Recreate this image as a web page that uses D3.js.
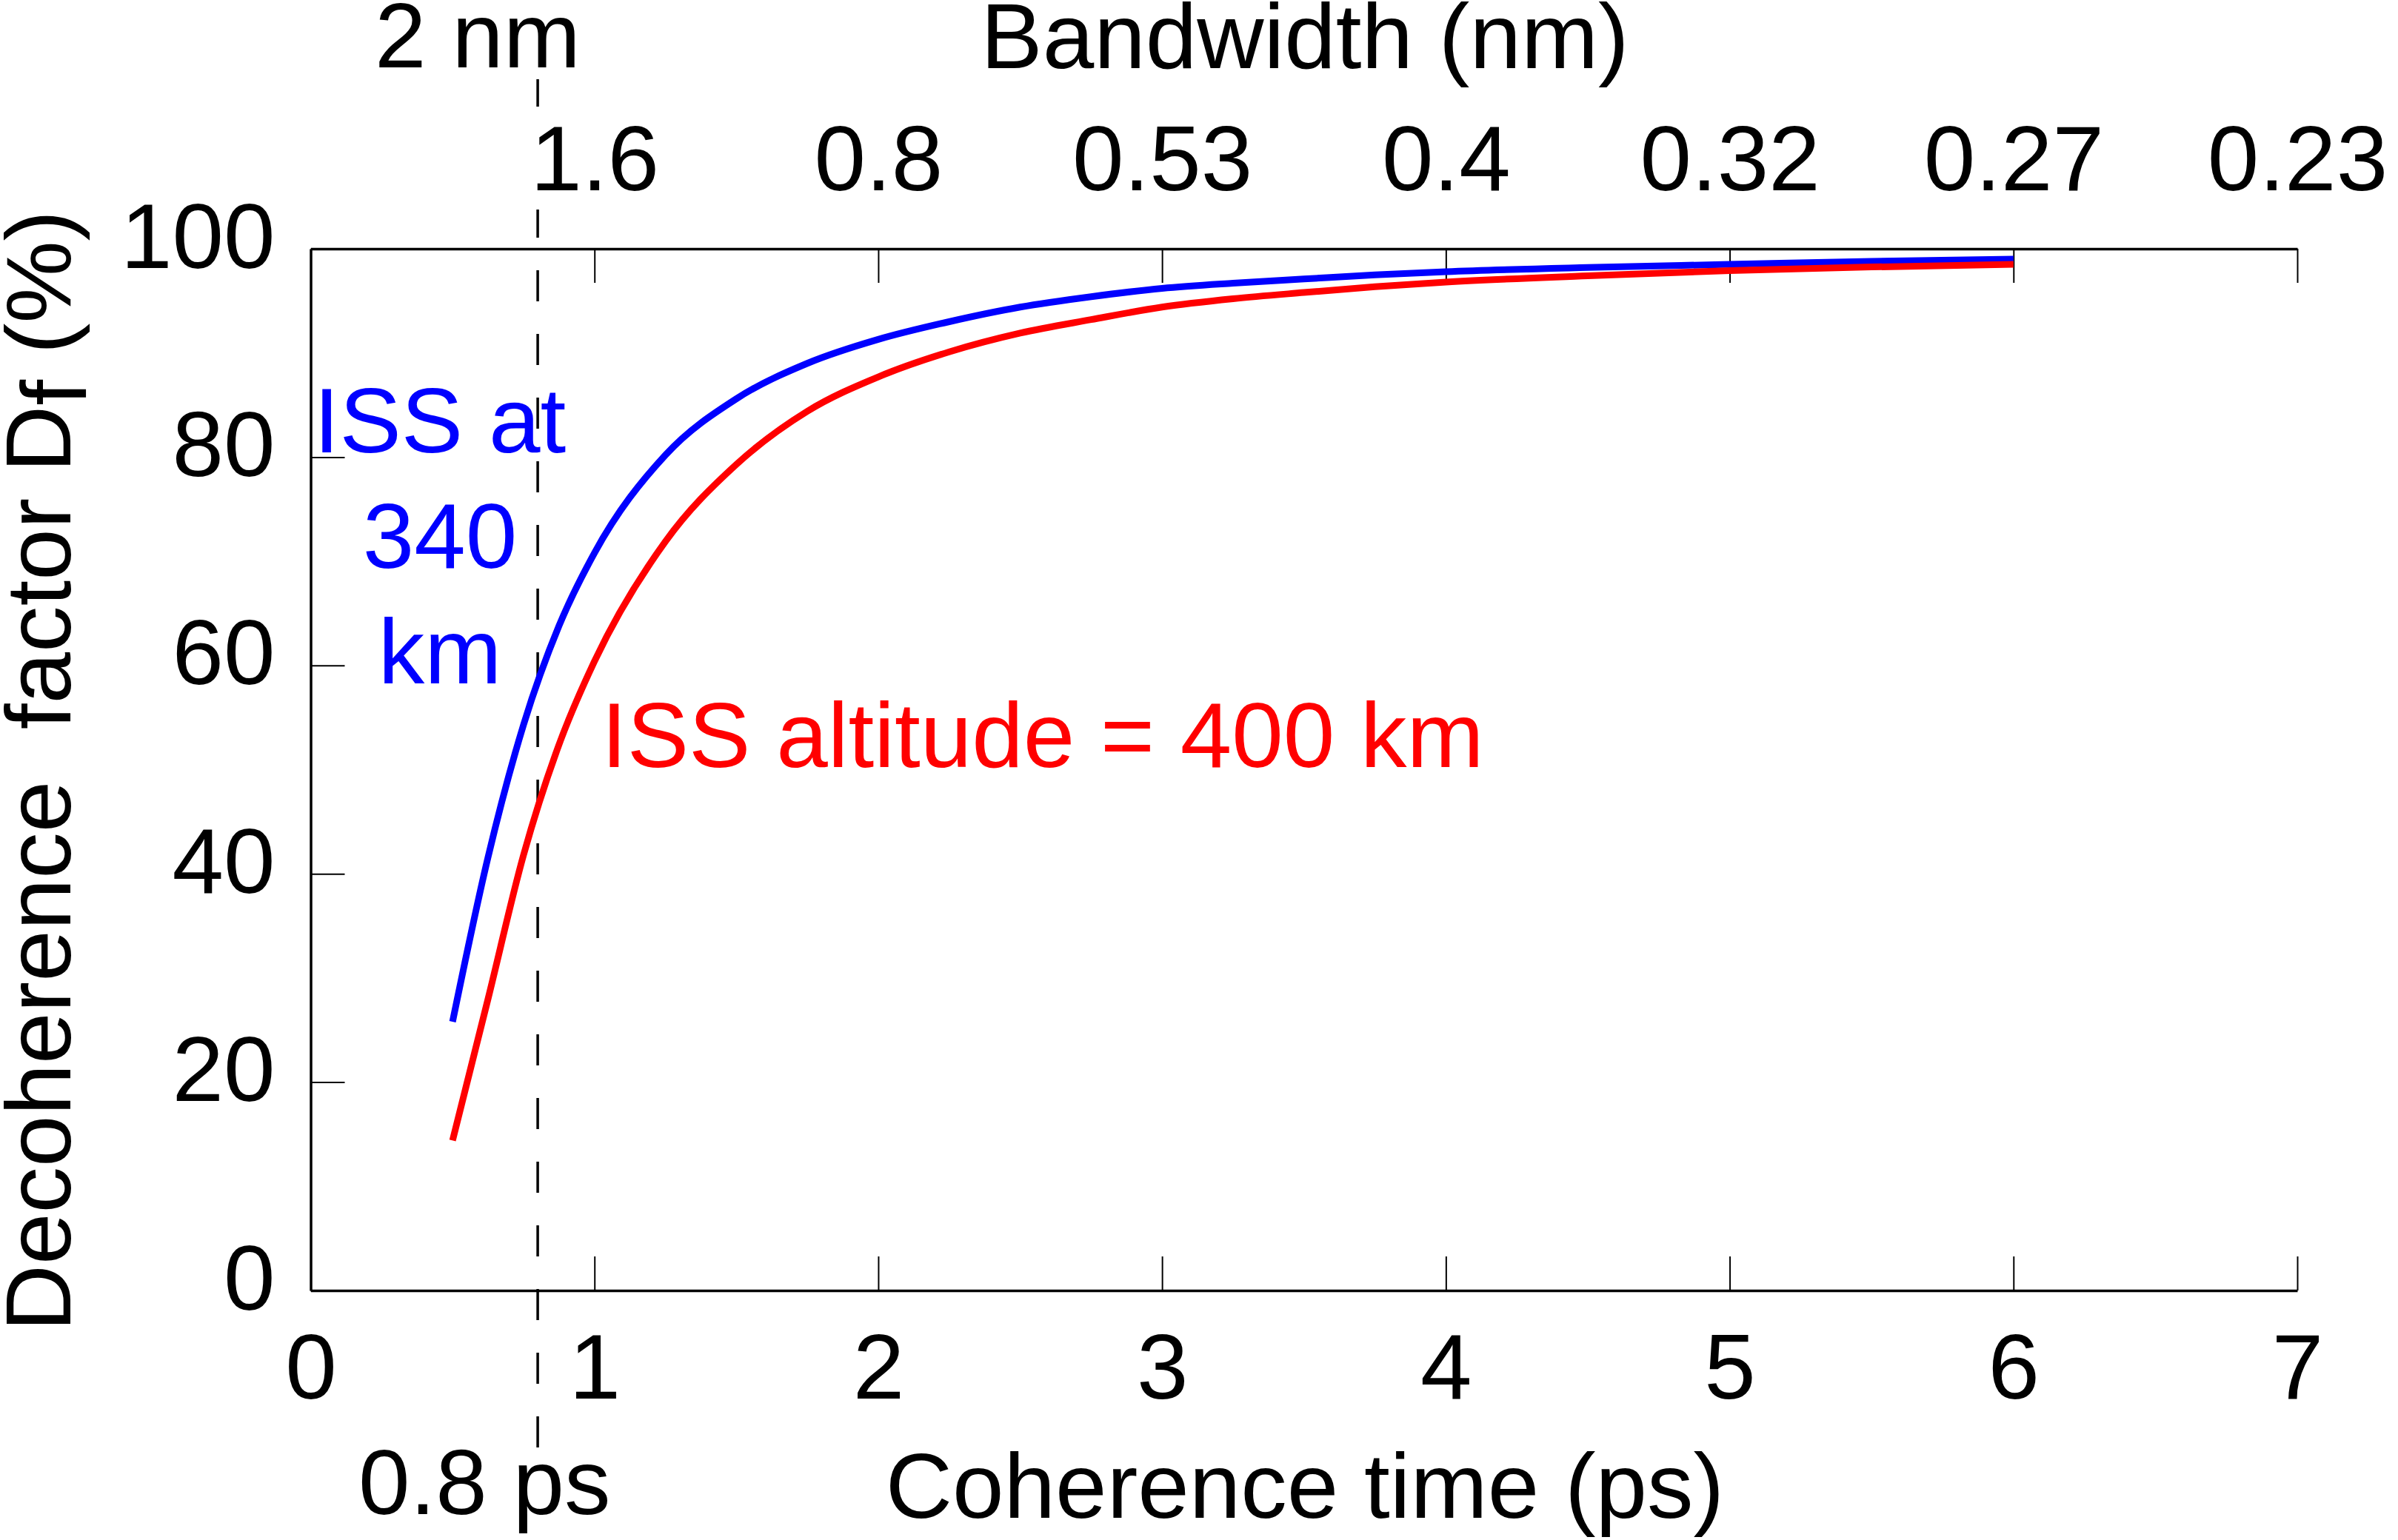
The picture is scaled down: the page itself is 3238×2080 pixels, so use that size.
<!DOCTYPE html>
<html>
<head>
<meta charset="utf-8">
<script src="https://cdn.jsdelivr.net/npm/d3@7"></script>
<style>
  body { margin: 0; background: #fff; }
  svg text { font-family: "Liberation Sans", Arial, sans-serif; }
</style>
</head>
<body>
<svg id="chart" width="3238" height="2080"></svg>
<script>
// coherence time (ps) and decoherence factor (%)
var coherenceTime = [0.5, 0.625, 0.75, 0.875, 1.0, 1.25, 1.5, 1.75, 2.0, 2.25, 2.5, 2.75, 3.0, 3.25, 3.5, 3.75, 4.0, 4.5, 5.0, 5.5, 6.0];
var iss340 = [25.8, 41.6, 54.3, 63.8, 70.8, 80.2, 85.6, 89.0, 91.3, 93.0, 94.4, 95.4, 96.2, 96.7, 97.1, 97.5, 97.8, 98.2, 98.5, 98.8, 99.0];
var iss400 = [14.4, 28.0, 41.8, 52.4, 60.4, 71.9, 79.3, 84.4, 87.7, 90.1, 91.9, 93.2, 94.4, 95.2, 95.8, 96.35, 96.8, 97.4, 97.9, 98.25, 98.5];

var xTicks = [0, 1, 2, 3, 4, 5, 6, 7];
var yTicks = [0, 20, 40, 60, 80, 100];
var bandwidthTicks = [1, 2, 3, 4, 5, 6, 7];
var bandwidthLabels = ["1.6", "0.8", "0.53", "0.4", "0.32", "0.27", "0.23"];
var markerTime = 0.8;

var svg = d3.select("#chart");
var fs = 125;

var x = d3.scaleLinear().domain([0, 7]).range([419.5, 3102]);
var y = d3.scaleLinear().domain([0, 100]).range([1743, 336]);

// dashed marker line at 0.8 ps / 2 nm
svg.append("line")
    .attr("x1", x(markerTime)).attr("x2", x(markerTime))
    .attr("y1", 107).attr("y2", 1955)
    .attr("stroke", "#000")
    .attr("stroke-width", 3.5)
    .attr("stroke-dasharray", "42,44");

function styleAxis(g) {
    g.select(".domain").attr("stroke", "#000").attr("stroke-width", 3.5);
    g.selectAll(".tick line").attr("stroke", "#000").attr("stroke-width", 2);
    g.selectAll(".tick text").attr("fill", "#000")
        .style("font-size", fs + "px")
        .style("font-family", '"Liberation Sans", Arial, sans-serif');
}

var bottomAxis = svg.append("g")
    .attr("transform", "translate(0," + y(0) + ")")
    .call(d3.axisBottom(x).tickValues(xTicks).tickSizeInner(-46).tickSizeOuter(0).tickPadding(57).tickFormat(d3.format("d")))
    .call(styleAxis);

var topAxis = svg.append("g")
    .attr("transform", "translate(0," + y(100) + ")")
    .call(d3.axisTop(x).tickValues(bandwidthTicks).tickSizeInner(-46).tickSizeOuter(0).tickPadding(79)
          .tickFormat(function(d, i) { return bandwidthLabels[i]; }))
    .call(styleAxis);
topAxis.selectAll(".tick text").attr("dy", "0em");

// the first bandwidth label hides the dashes behind it
topAxis.selectAll(".tick").filter(function(d) { return d === 1; })
    .each(function() {
        var t = d3.select(this).select("text"),
            b = t.node().getBBox();
        d3.select(this).insert("rect", "text")
            .attr("x", b.x - 4).attr("y", b.y)
            .attr("width", b.width + 8).attr("height", b.height)
            .attr("fill", "#fff");
    });

var leftAxis = svg.append("g")
    .attr("transform", "translate(" + x(0) + ",0)")
    .call(d3.axisLeft(y).tickValues(yTicks).tickSizeInner(-46).tickSizeOuter(0).tickPadding(48).tickFormat(d3.format("d")))
    .call(styleAxis);
leftAxis.selectAll(".tick text").attr("dy", "0.2em");

// curves
var line = d3.line()
    .x(function(d) { return x(d[0]); })
    .y(function(d) { return y(d[1]); })
    .curve(d3.curveMonotoneX);

svg.append("path")
    .datum(d3.zip(coherenceTime, iss340))
    .attr("d", line)
    .attr("fill", "none")
    .attr("stroke", "#0000ff")
    .attr("stroke-width", 9);

svg.append("path")
    .datum(d3.zip(coherenceTime, iss400))
    .attr("d", line)
    .attr("fill", "none")
    .attr("stroke", "#ff0000")
    .attr("stroke-width", 9);

// titles
svg.append("text")
    .attr("x", 1762).attr("y", 92)
    .attr("text-anchor", "middle")
    .style("font-size", fs + "px")
    .text("Bandwidth (nm)");

svg.append("text")
    .attr("x", 1762).attr("y", 2050)
    .attr("text-anchor", "middle")
    .style("font-size", fs + "px")
    .text("Coherence time (ps)");

var yTitle = svg.append("text")
    .attr("transform", "translate(95,1041) rotate(-90)")
    .attr("text-anchor", "middle")
    .style("font-size", fs + "px")
    .style("white-space", "pre");
yTitle.append("tspan").text("Decoherence\u00a0\u00a0factor D");
yTitle.append("tspan").attr("dy", 21).text("f");
yTitle.append("tspan").attr("dy", -21).text(" (%)");

// marker labels
svg.append("text")
    .attr("x", 784).attr("y", 91)
    .attr("text-anchor", "end")
    .style("font-size", fs + "px")
    .text("2 nm");

svg.append("text")
    .attr("x", 484).attr("y", 2045)
    .style("font-size", fs + "px")
    .text("0.8 ps");

// curve labels
var blueLines = ["ISS at", "340", "km"];
svg.append("g").selectAll("text")
    .data(blueLines)
    .enter().append("text")
    .attr("x", 594)
    .attr("y", function(d, i) { return 611 + i * 156; })
    .attr("text-anchor", "middle")
    .attr("fill", "#0000ff")
    .style("font-size", fs + "px")
    .text(function(d) { return d; });

svg.append("text")
    .attr("x", 812).attr("y", 1036)
    .attr("fill", "#ff0000")
    .style("font-size", fs + "px")
    .text("ISS altitude = 400 km");
</script>
</body>
</html>
